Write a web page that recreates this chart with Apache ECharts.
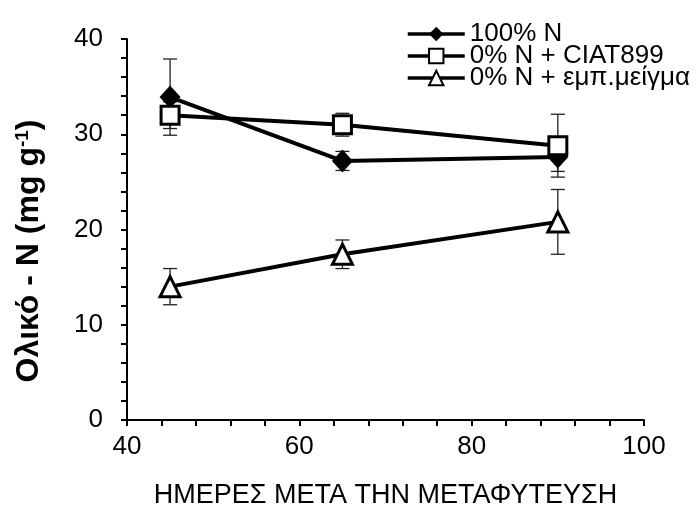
<!DOCTYPE html>
<html><head><meta charset="utf-8">
<script src="https://cdn.jsdelivr.net/npm/echarts@6/dist/echarts.min.js"></script>
<style>html,body{margin:0;padding:0;background:#fff}#c{width:699px;height:510px}</style>
</head><body><div id="c"></div>
<script>
var days = [45, 65, 90];
var seriesNames = ['100% N', '0% N + CIAT899', '0% N + εμπ.μείγμα'];
var fullN = [33.9, 27.2, 27.6];
var fullNErr = [4.0, 1.0, 1.5];
var ciat = [32.0, 31.0, 28.8];
var ciatErr = [1.4, 1.2, 3.3];
var mix = [14.0, 17.4, 20.8];
var mixErr = [1.9, 1.5, 3.4];
var yTicks = [0, 10, 20, 30, 40];
var xTicks = [40, 60, 80, 100];
var xTitle = 'ΗΜΕΡΕΣ ΜΕΤΑ ΤΗΝ ΜΕΤΑΦΥΤΕΥΣΗ';

var FONT = 'Liberation Sans';
function pairs(v){ return days.map(function(d,i){ return [d, v[i]]; }); }
function errData(v,e){ return days.map(function(d,i){ return [d, v[i]-e[i], v[i]+e[i]]; }); }
function errSeries(v,e){
  return {
    type:'custom', silent:true, z:1,
    data: errData(v,e),
    renderItem: function(params, api){
      var lo = api.coord([api.value(0), api.value(1)]);
      var hi = api.coord([api.value(0), api.value(2)]);
      var w = 7;
      var st = {stroke:'#222', lineWidth:1.3};
      return {type:'group', children:[
        {type:'line', shape:{x1:lo[0],y1:lo[1],x2:hi[0],y2:hi[1]}, style:st},
        {type:'line', shape:{x1:lo[0]-w,y1:lo[1],x2:lo[0]+w,y2:lo[1]}, style:st},
        {type:'line', shape:{x1:hi[0]-w,y1:hi[1],x2:hi[0]+w,y2:hi[1]}, style:st}
      ]};
    }
  };
}
var chart = echarts.init(document.getElementById('c'));
chart.setOption({
  animation:false,
  textStyle:{fontFamily:FONT},
  grid:{left:127, right:55, top:39, bottom:90, outerBoundsMode:'none', containLabel:false},
  legend:{
    orient:'vertical', left:401, top:16, itemGap:-4,
    itemWidth:57, itemHeight:18,
    lineStyle:{width:3.5, color:'#000'},
    textStyle:{fontSize:26, color:'#000', fontFamily:FONT},
    data: seriesNames
  },
  graphic:[{
    type:'text', x:29, y:251, rotation:Math.PI/2,
    style:{
      text:'{t|Ολικό - N (mg g}{s|-1}{t|)}',
      align:'center', verticalAlign:'middle',
      rich:{
        t:{fontSize:32, fontWeight:'bold', fill:'#000', fontFamily:FONT},
        s:{fontSize:19, fontWeight:'bold', fill:'#000', fontFamily:FONT, verticalAlign:'top', padding:[0,0,13,0]}
      }
    }
  }],
  xAxis:{
    type:'value', min:40, max:100, interval:20,
    axisLine:{lineStyle:{color:'#000', width:2}},
    axisTick:{inside:false, length:6, lineStyle:{color:'#000', width:2}},
    minorTick:{show:true, splitNumber:5, length:6, lineStyle:{color:'#000', width:2}},
    splitLine:{show:false},
    axisLabel:{fontSize:26, color:'#000', margin:14,
      formatter:function(v){ return xTicks.indexOf(v)>=0 ? String(v) : ''; }},
    name:xTitle, nameLocation:'middle', nameGap:62,
    nameTextStyle:{fontSize:27, color:'#000', fontFamily:FONT}
  },
  yAxis:{
    type:'value', min:0, max:40, interval:10,
    axisLine:{lineStyle:{color:'#000', width:2}},
    axisTick:{inside:false, length:6, lineStyle:{color:'#000', width:2}},
    minorTick:{show:true, splitNumber:5, length:6, lineStyle:{color:'#000', width:2}},
    splitLine:{show:false},
    axisLabel:{fontSize:26, color:'#000', margin:24,
      formatter:function(v){ return yTicks.indexOf(v)>=0 ? String(v) : ''; }}
  },
  series:[
    errSeries(fullN, fullNErr),
    errSeries(ciat, ciatErr),
    errSeries(mix, mixErr),
    {name:seriesNames[0], type:'line', data:pairs(fullN), z:3,
     symbol:'diamond', symbolSize:[21,23],
     lineStyle:{color:'#000', width:4},
     itemStyle:{color:'#000', borderColor:'#000', borderWidth:0}},
    {name:seriesNames[1], type:'line', data:pairs(ciat), z:4,
     symbol:'rect', symbolSize:18,
     lineStyle:{color:'#000', width:4},
     itemStyle:{color:'#fff', borderColor:'#000', borderWidth:3}},
    {name:seriesNames[2], type:'line', data:pairs(mix), z:5,
     symbol:'triangle', symbolSize:[20,20],
     lineStyle:{color:'#000', width:4},
     itemStyle:{color:'#fff', borderColor:'#000', borderWidth:3}}
  ]
});
</script></body></html>
